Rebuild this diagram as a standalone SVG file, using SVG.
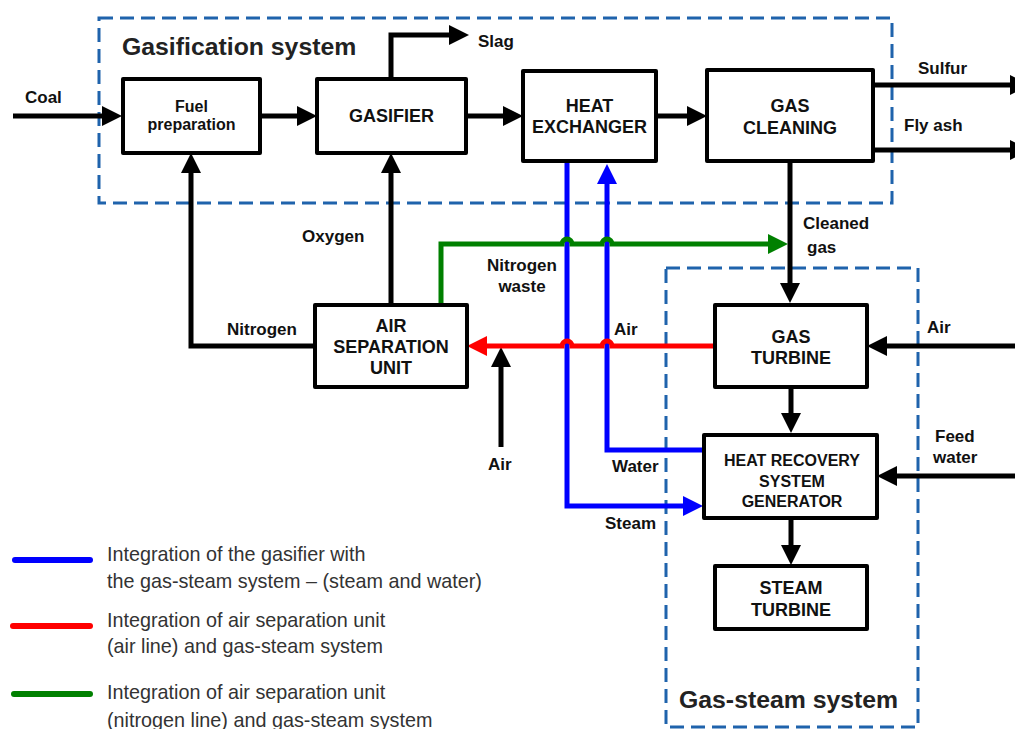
<svg xmlns="http://www.w3.org/2000/svg" width="1015" height="729" viewBox="0 0 1015 729">
<defs>
<marker id="ab" markerUnits="userSpaceOnUse" markerWidth="20" markerHeight="20" refX="0" refY="10" orient="auto"><path d="M0,0 L20,10 L0,20 Z" fill="#000"/></marker>
<marker id="abl" markerUnits="userSpaceOnUse" markerWidth="20" markerHeight="20" refX="0" refY="10" orient="auto"><path d="M0,0 L20,10 L0,20 Z" fill="#0000FF"/></marker>
<marker id="ar" markerUnits="userSpaceOnUse" markerWidth="20" markerHeight="20" refX="0" refY="10" orient="auto"><path d="M0,0 L20,10 L0,20 Z" fill="#FF0000"/></marker>
<marker id="ag" markerUnits="userSpaceOnUse" markerWidth="20" markerHeight="20" refX="0" refY="10" orient="auto"><path d="M0,0 L20,10 L0,20 Z" fill="#008000"/></marker>
</defs>
<style>
.box{fill:#fff;stroke:#000;stroke-width:4;stroke-linejoin:round}
.dash{fill:none;stroke:#1F63AC;stroke-width:3;stroke-dasharray:14 7}
.bt{font-family:"Liberation Sans",Arial,sans-serif;font-weight:bold;font-size:18px;fill:#111;text-anchor:middle}
.lb{font-family:"Liberation Sans",Arial,sans-serif;font-weight:bold;font-size:17px;fill:#111}
.ttl{font-family:"Liberation Sans",Arial,sans-serif;font-weight:bold;font-size:24.8px;fill:#222}
.lg{font-family:"Liberation Sans",Arial,sans-serif;font-size:19.8px;fill:#333}
.k{fill:none;stroke:#000;stroke-width:5}
.b{fill:none;stroke:#0000FF;stroke-width:5}
.r{fill:none;stroke:#FF0000;stroke-width:5}
.g{fill:none;stroke:#008000;stroke-width:5}
</style>
<rect width="1015" height="729" fill="#fff"/>

<g id="gasification-system">
<rect class="dash" x="99" y="18" width="793" height="185"/>
<text class="ttl" x="122" y="55">Gasification system</text>
</g>
<g id="gas-steam-system">
<rect class="dash" x="666" y="268" width="252" height="459"/>
<text class="ttl" x="679" y="708">Gas-steam system</text>
</g>

<g id="connectors">
<path class="k" d="M13 116 H102" marker-end="url(#ab)"/>
<path class="k" d="M260 116 H297" marker-end="url(#ab)"/>
<path class="k" d="M466 116 H503" marker-end="url(#ab)"/>
<path class="k" d="M656 116 H687" marker-end="url(#ab)"/>
<path class="k" d="M391 79 V35 H449" marker-end="url(#ab)"/>
<path class="k" d="M873 85 H1010" marker-end="url(#ab)"/>
<path class="k" d="M873 150 H1010" marker-end="url(#ab)"/>
<path class="k" d="M790 161 V283" marker-end="url(#ab)"/>
<path class="k" d="M315 346 H191 V173" marker-end="url(#ab)"/>
<path class="k" d="M391 305 V173" marker-end="url(#ab)"/>
<path class="k" d="M501 447 V367" marker-end="url(#ab)"/>
<path class="k" d="M1015 346 H887" marker-end="url(#ab)"/>
<path class="k" d="M1015 476 H897" marker-end="url(#ab)"/>
<path class="k" d="M791 387 V413" marker-end="url(#ab)"/>
<path class="k" d="M791 518 V545" marker-end="url(#ab)"/>
<path class="b" d="M567 161 V506 H683" marker-end="url(#abl)"/>
<path class="b" d="M705 450 H607 V184" marker-end="url(#abl)"/>
<path class="g" d="M441 305 V244 H562 A5 5 0 0 1 572 244 H602 A5 5 0 0 1 612 244 H768" marker-end="url(#ag)"/>
<path class="r" d="M715 346 H612 A5 5 0 0 0 602 346 H572 A5 5 0 0 0 562 346 H487" marker-end="url(#ar)"/>
</g>

<g id="labels">
<text class="lb" x="25" y="103">Coal</text>
<text class="lb" x="478" y="47">Slag</text>
<text class="lb" x="918" y="74">Sulfur</text>
<text class="lb" x="904" y="131">Fly ash</text>
<text class="lb" x="803" y="229">Cleaned</text>
<text class="lb" x="807" y="253">gas</text>
<text class="lb" x="302" y="242">Oxygen</text>
<text class="lb" x="227" y="335">Nitrogen</text>
<text class="lb" x="522" y="271" text-anchor="middle">Nitrogen</text>
<text class="lb" x="522" y="292" text-anchor="middle">waste</text>
<text class="lb" x="614" y="335">Air</text>
<text class="lb" x="488" y="470">Air</text>
<text class="lb" x="612" y="472">Water</text>
<text class="lb" x="605" y="529">Steam</text>
<text class="lb" x="927" y="333">Air</text>
<text class="lb" x="935" y="442">Feed</text>
<text class="lb" x="933" y="463">water</text>
</g>

<g id="fuel-preparation">
<rect class="box" x="123" y="79" width="137" height="74"/>
<text class="bt" x="191.5" y="112" style="font-size:16px">Fuel</text>
<text class="bt" x="191.5" y="130" style="font-size:16px">preparation</text>
</g>
<g id="gasifier">
<rect class="box" x="317" y="79" width="149" height="74"/>
<text class="bt" x="391.5" y="122">GASIFIER</text>
</g>
<g id="heat-exchanger">
<rect class="box" x="523" y="71" width="133" height="90"/>
<text class="bt" x="589.5" y="112">HEAT</text>
<text class="bt" x="589.5" y="133">EXCHANGER</text>
</g>
<g id="gas-cleaning">
<rect class="box" x="707" y="70" width="166" height="91"/>
<text class="bt" x="790" y="112">GAS</text>
<text class="bt" x="790" y="134">CLEANING</text>
</g>
<g id="air-separation-unit">
<rect class="box" x="315" y="305" width="152" height="82"/>
<text class="bt" x="391" y="332">AIR</text>
<text class="bt" x="391" y="353">SEPARATION</text>
<text class="bt" x="391" y="374">UNIT</text>
</g>
<g id="gas-turbine">
<rect class="box" x="715" y="305" width="152" height="82"/>
<text class="bt" x="791" y="343">GAS</text>
<text class="bt" x="791" y="364">TURBINE</text>
</g>
<g id="hrsg">
<rect class="box" x="704" y="435" width="173" height="83"/>
<text class="bt" x="792" y="466" style="font-size:16px">HEAT RECOVERY</text>
<text class="bt" x="792" y="487" style="font-size:16px">SYSTEM</text>
<text class="bt" x="792" y="507" style="font-size:16px">GENERATOR</text>
</g>
<g id="steam-turbine">
<rect class="box" x="715" y="566" width="152" height="63"/>
<text class="bt" x="791" y="594">STEAM</text>
<text class="bt" x="791" y="616">TURBINE</text>
</g>

<g id="legend">
<path d="M15 560 H90" stroke="#0000FF" stroke-width="6" stroke-linecap="round"/>
<text class="lg" x="107" y="561">Integration of the gasifier with</text>
<text class="lg" x="107" y="588">the gas-steam system – (steam and water)</text>
<path d="M13 626 H90" stroke="#FF0000" stroke-width="6" stroke-linecap="round"/>
<text class="lg" x="107" y="627">Integration of air separation unit</text>
<text class="lg" x="107" y="653">(air line) and gas-steam system</text>
<path d="M14 694 H90" stroke="#008000" stroke-width="6" stroke-linecap="round"/>
<text class="lg" x="107" y="699">Integration of air separation unit</text>
<text class="lg" x="107" y="727">(nitrogen line) and gas-steam system</text>
</g>
</svg>
